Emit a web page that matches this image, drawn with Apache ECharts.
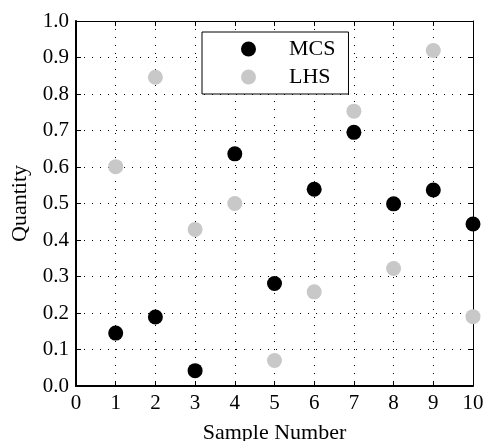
<!DOCTYPE html>
<html>
<head>
<meta charset="utf-8">
<script src="https://cdn.jsdelivr.net/npm/echarts@6/dist/echarts.min.js"></script>
<style>
html,body{margin:0;padding:0;background:#fff;}
#c{width:483px;height:441px;}
</style>
</head>
<body>
<div id="c"></div>
<script>
var samples = [1,2,3,4,5,6,7,8,9,10];
var mcs = [0.145, 0.189, 0.042, 0.636, 0.281, 0.539, 0.695, 0.499, 0.537, 0.444];
var lhs = [0.601, 0.846, 0.429, 0.500, 0.070, 0.258, 0.753, 0.322, 0.919, 0.190];
var seriesNames = ['MCS', 'LHS'];
var xTicks = [0,1,2,3,4,5,6,7,8,9,10];
var yTicks = [0.0,0.1,0.2,0.3,0.4,0.5,0.6,0.7,0.8,0.9,1.0];

var font = 'Liberation Serif';
function pairs(vals){ return samples.map(function(s,i){ return [s, vals[i]]; }); }

var chart = echarts.init(document.getElementById('c'), null, {renderer:'canvas'});
var gridLine = {show:true, lineStyle:{color:'#000', width:1, type:[1,7]}};
chart.setOption({
  animation:false,
  backgroundColor:'#fff',
  grid:{left:76, right:10, top:21, bottom:55, containLabel:false, outerBoundsMode:'none'},
  legend:{
    data:seriesNames,
    orient:'vertical',
    left:202, top:32,
    padding:[6,13,6,39],
    itemGap:6,
    itemWidth:15, itemHeight:15,
    icon:'circle',
    backgroundColor:'#fff',
    borderColor:'#000', borderWidth:1,
    textStyle:{fontFamily:font, fontSize:22, color:'#000', padding:[0,0,0,28]}
  },
  xAxis:[{
    type:'value', min:xTicks[0], max:xTicks[xTicks.length-1], interval:1,
    position:'bottom',
    name:'Sample Number', nameLocation:'middle', nameGap:36,
    nameTextStyle:{fontFamily:font, fontSize:22, color:'#000'},
    axisLine:{show:true, onZero:false, lineStyle:{color:'#000', width:2}},
    axisTick:{show:true, inside:true, length:5, lineStyle:{color:'#000'}},
    axisLabel:{fontFamily:font, fontSize:21, color:'#000', margin:7},
    splitLine:gridLine
  },{
    type:'value', min:xTicks[0], max:xTicks[xTicks.length-1], interval:1,
    position:'top',
    axisLine:{show:true, onZero:false, lineStyle:{color:'#000', width:1}},
    axisTick:{show:true, inside:true, length:5, lineStyle:{color:'#000'}},
    axisLabel:{show:false},
    splitLine:{show:false}
  }],
  yAxis:[{
    type:'value', min:yTicks[0], max:yTicks[yTicks.length-1], interval:0.1,
    position:'left',
    name:'Quantity', nameLocation:'middle', nameGap:45,
    nameTextStyle:{fontFamily:font, fontSize:22, color:'#000'},
    axisLine:{show:true, onZero:false, lineStyle:{color:'#000', width:2}},
    axisTick:{show:true, inside:true, length:5, lineStyle:{color:'#000'}},
    axisLabel:{fontFamily:font, fontSize:21, color:'#000', margin:7,
      formatter:function(v){ return v.toFixed(1); }},
    splitLine:gridLine
  },{
    type:'value', min:yTicks[0], max:yTicks[yTicks.length-1], interval:0.1,
    position:'right',
    axisLine:{show:true, onZero:false, lineStyle:{color:'#000', width:1}},
    axisTick:{show:true, inside:true, length:5, lineStyle:{color:'#000'}},
    axisLabel:{show:false},
    splitLine:{show:false}
  }],
  series:[{
    name:seriesNames[0], type:'scatter', symbol:'circle', symbolSize:15,
    itemStyle:{color:'#000', opacity:1}, data:pairs(mcs), xAxisIndex:0, yAxisIndex:0, clip:false
  },{
    name:seriesNames[1], type:'scatter', symbol:'circle', symbolSize:15,
    itemStyle:{color:'#c8c8c8', opacity:1}, data:pairs(lhs), xAxisIndex:0, yAxisIndex:0, clip:false
  }]
});
</script>
</body>
</html>
